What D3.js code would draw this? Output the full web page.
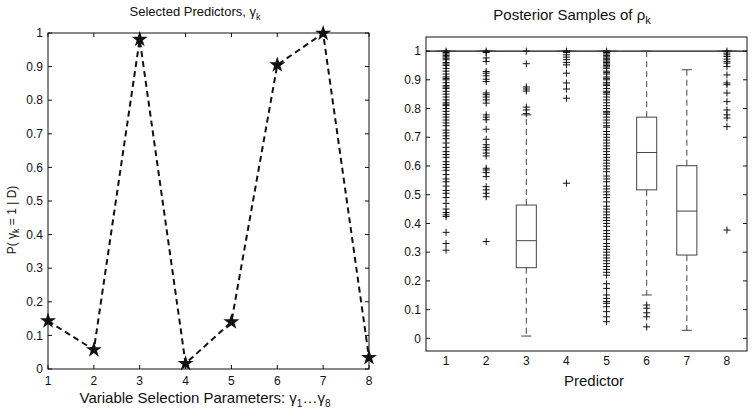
<!DOCTYPE html>
<html><head><meta charset="utf-8">
<script src="https://cdn.jsdelivr.net/npm/d3@7/dist/d3.min.js"></script>
<style>body{margin:0;background:#fff}svg{display:block;font-family:"Liberation Sans",Arial,sans-serif}</style>
</head><body><svg id="c" width="754" height="417"></svg>
<script>
// ---- Left panel data
const paramIdx = [1,2,3,4,5,6,7,8];
const selProb = [0.143,0.057,0.981,0.016,0.14,0.905,0.999,0.034];
const leftYTicks = [0,0.1,0.2,0.3,0.4,0.5,0.6,0.7,0.8,0.9,1];
// ---- Right panel data (boxplots)
const predictors = [1,2,3,4,5,6,7,8];
const q1 =     [1,1,0.246,1,1,0.517,0.29,1];
const med =    [1,1,0.34,1,1,0.647,0.443,1];
const q3 =     [1,1,0.464,1,1,0.77,0.601,1];
const whLo =   [1,1,0.008,1,1,0.151,0.028,1];
const whHi =   [1,1,0.778,1,1,1.0,0.935,1];
const out1 = [0.307,0.33,0.369,0.424,0.43,0.438,0.45,0.47,0.49,0.505,0.515,0.53,0.545,0.555,0.57,0.585,0.595,0.605,0.615,0.63,0.64,0.65,0.665,0.68,0.695,0.705,0.715,0.725,0.74,0.75,0.76,0.77,0.78,0.79,0.8,0.81,0.815,0.82,0.83,0.84,0.85,0.86,0.87,0.875,0.88,0.89,0.9,0.905,0.91,0.92,0.93,0.94,0.95,0.955,0.96,0.97,0.975,0.98,0.985,0.99,0.995,1.0];
const out2 = [0.337,0.493,0.505,0.517,0.528,0.563,0.577,0.586,0.592,0.635,0.645,0.656,0.665,0.674,0.693,0.728,0.761,0.77,0.778,0.819,0.83,0.84,0.848,0.854,0.894,0.902,0.914,0.923,0.929,0.964,0.976,0.995,1.0];
const out3 = [0.782,0.795,0.805,0.861,0.868,0.875,0.956,1.0];
const out4 = [0.54,0.836,0.868,0.889,0.923,0.952,0.96,0.97,0.979,0.987,0.995,1.0];
const out5 = [0.058,0.075,0.093,0.11,0.122,0.128,0.139,0.151,0.174,0.19,0.22,0.23,0.24,0.25,0.26,0.27,0.28,0.29,0.3,0.31,0.32,0.33,0.345,0.355,0.365,0.375,0.39,0.4,0.41,0.42,0.43,0.44,0.45,0.46,0.475,0.49,0.5,0.51,0.52,0.53,0.545,0.555,0.565,0.58,0.59,0.6,0.61,0.62,0.63,0.64,0.65,0.66,0.67,0.68,0.69,0.7,0.71,0.72,0.735,0.74,0.75,0.76,0.77,0.78,0.785,0.79,0.8,0.81,0.82,0.83,0.84,0.85,0.855,0.86,0.87,0.88,0.885,0.89,0.9,0.905,0.91,0.92,0.925,0.93,0.94,0.945,0.95,0.955,0.96,0.965,0.97,0.975,0.98,0.985,0.99,0.995,1.0];
const out6 = [0.04,0.075,0.089,0.105,0.116];
const out7 = [];
const out8 = [0.377,0.737,0.767,0.778,0.795,0.824,0.854,0.883,0.889,0.917,0.946,0.958,0.964,0.972,0.981,0.987,0.993,1.0];
const outliers = [out1,out2,out3,out4,out5,out6,out7,out8];
const rightYTicks = [0,0.1,0.2,0.3,0.4,0.5,0.6,0.7,0.8,0.9,1];

const svg = d3.select("#c");
const ink = "#111";

// ================= LEFT PANEL =================
const lx = d3.scaleLinear().domain([1,8]).range([48,369]);
const ly = d3.scaleLinear().domain([0,1]).range([369,33]);
const L = svg.append("g");
L.append("rect").attr("x",48).attr("y",33).attr("width",321).attr("height",336)
  .attr("fill","none").attr("stroke",ink).attr("stroke-width",1);
leftYTicks.forEach(t=>{
  L.append("line").attr("x1",48).attr("x2",52).attr("y1",ly(t)).attr("y2",ly(t)).attr("stroke",ink);
  L.append("line").attr("x1",369).attr("x2",365).attr("y1",ly(t)).attr("y2",ly(t)).attr("stroke",ink);
  L.append("text").attr("x",43).attr("y",ly(t)).attr("dy","0.35em").attr("text-anchor","end")
    .attr("font-size",12).attr("fill",ink).text(t===0?"0":t===1?"1":d3.format(".1f")(t));
});
paramIdx.forEach(t=>{
  L.append("line").attr("x1",lx(t)).attr("x2",lx(t)).attr("y1",369).attr("y2",365).attr("stroke",ink);
  L.append("line").attr("x1",lx(t)).attr("x2",lx(t)).attr("y1",33).attr("y2",37).attr("stroke",ink);
  L.append("text").attr("x",lx(t)).attr("y",385).attr("text-anchor","middle")
    .attr("font-size",12).attr("fill",ink).text(t);
});
L.append("path").datum(paramIdx.map((k,i)=>[k,selProb[i]]))
  .attr("d",d3.line().x(d=>lx(d[0])).y(d=>ly(d[1])))
  .attr("fill","none").attr("stroke",ink).attr("stroke-width",2).attr("stroke-dasharray","6,4");
L.selectAll(".star").data(paramIdx.map((k,i)=>[k,selProb[i]])).enter().append("path")
  .attr("transform",d=>`translate(${lx(d[0])},${ly(d[1])})`)
  .attr("d",d3.symbol().type(d3.symbolStar).size(80)).attr("fill",ink);
const lt = L.append("text").attr("x",195).attr("y",16).attr("text-anchor","middle").attr("font-size",13).attr("fill",ink);
lt.append("tspan").text("Selected Predictors, γ");
lt.append("tspan").attr("font-size",9).attr("dy",4).text("k");
const lxl = L.append("text").attr("x",205).attr("y",403).attr("text-anchor","middle").attr("font-size",15).attr("fill",ink);
lxl.append("tspan").text("Variable Selection Parameters: γ");
lxl.append("tspan").attr("font-size",10).attr("dy",4).text("1");
lxl.append("tspan").attr("dy",-4).text("…γ");
lxl.append("tspan").attr("font-size",10).attr("dy",4).text("8");
const lyl = L.append("text").attr("transform","translate(16,220) rotate(-90)").attr("text-anchor","middle").attr("font-size",12).attr("fill",ink);
lyl.append("tspan").text("P( γ");
lyl.append("tspan").attr("font-size",9).attr("dy",3).text("k");
lyl.append("tspan").attr("dy",-3).text(" = 1 | D)");

// ================= RIGHT PANEL =================
const rx = d3.scaleLinear().domain([0.5,8.5]).range([426,747]);
const ry = d3.scaleLinear().domain([-0.044,1.049]).range([351,37]);
const R = svg.append("g");
R.append("rect").attr("x",426).attr("y",37).attr("width",321).attr("height",314)
  .attr("fill","none").attr("stroke",ink).attr("stroke-width",1);
rightYTicks.forEach(t=>{
  R.append("line").attr("x1",426).attr("x2",430).attr("y1",ry(t)).attr("y2",ry(t)).attr("stroke",ink);
  R.append("line").attr("x1",747).attr("x2",743).attr("y1",ry(t)).attr("y2",ry(t)).attr("stroke",ink);
  R.append("text").attr("x",421).attr("y",ry(t)).attr("dy","0.35em").attr("text-anchor","end")
    .attr("font-size",12).attr("fill",ink).text(t===0?"0":t===1?"1":d3.format(".1f")(t));
});
predictors.forEach(p=>{
  R.append("text").attr("x",rx(p)).attr("y",365).attr("text-anchor","middle").attr("font-size",12).attr("fill",ink).text(p);
});
R.append("line").attr("x1",426).attr("x2",747).attr("y1",ry(1)).attr("y2",ry(1)).attr("stroke",ink).attr("stroke-width",1.3);
const boxC = "#444", bw = 0.25, cw = 0.125;
predictors.forEach((p,i)=>{
  const g = R.append("g");
  g.append("line").attr("x1",rx(p)).attr("x2",rx(p)).attr("y1",ry(q3[i])).attr("y2",ry(whHi[i]))
    .attr("stroke",boxC).attr("stroke-dasharray","6,4");
  g.append("line").attr("x1",rx(p)).attr("x2",rx(p)).attr("y1",ry(q1[i])).attr("y2",ry(whLo[i]))
    .attr("stroke",boxC).attr("stroke-dasharray","6,4");
  [whHi[i],whLo[i]].forEach(w=>g.append("line").attr("x1",rx(p-cw)).attr("x2",rx(p+cw)).attr("y1",ry(w)).attr("y2",ry(w)).attr("stroke",boxC));
  g.append("rect").attr("x",rx(p-bw)).attr("width",rx(p+bw)-rx(p-bw)).attr("y",ry(q3[i])).attr("height",ry(q1[i])-ry(q3[i]))
    .attr("fill","none").attr("stroke",boxC);
  g.append("line").attr("x1",rx(p-bw)).attr("x2",rx(p+bw)).attr("y1",ry(med[i])).attr("y2",ry(med[i])).attr("stroke",boxC);
  outliers[i].forEach(v=>{
    const X = rx(p), Y = ry(v);
    g.append("path").attr("d",`M${X-3.5},${Y}H${X+3.5}M${X},${Y-3.5}V${Y+3.5}`).attr("stroke",ink).attr("stroke-width",1).attr("fill","none");
  });
});
const rt = R.append("text").attr("x",572).attr("y",20).attr("text-anchor","middle").attr("font-size",15).attr("fill",ink);
rt.append("tspan").text("Posterior Samples of ρ");
rt.append("tspan").attr("font-size",11).attr("dy",4).text("k");
R.append("text").attr("x",594).attr("y",386).attr("text-anchor","middle").attr("font-size",15).attr("fill",ink).text("Predictor");
</script></body></html>
